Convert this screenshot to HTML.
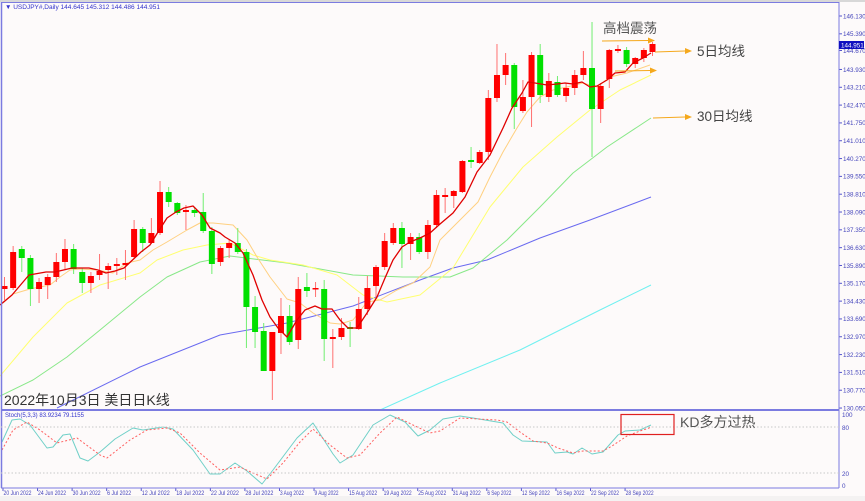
<!DOCTYPE html>
<html><head><meta charset="utf-8"><style>
html,body{margin:0;padding:0;background:#fff;}
svg{display:block;font-family:"Liberation Sans","Noto Sans CJK SC",sans-serif;}
</style></head><body>
<svg id="s" width="865" height="501" xmlns="http://www.w3.org/2000/svg">
<rect x="0" y="0" width="865" height="501" fill="#fdfafa"/>
<rect x="0" y="0" width="865" height="2" fill="#d8d8d8"/>
<rect x="838" y="2" width="27" height="499" fill="#fdfafa"/>
<rect x="0" y="496" width="865" height="5" fill="#f4f2f2"/>
<g id="g"></g>
<line x1="1.5" y1="2" x2="1.5" y2="488" stroke="#7b7be0" stroke-width="1.5"/>
<line x1="1" y1="2.5" x2="839" y2="2.5" stroke="#7b7be0" stroke-width="1"/>
<line x1="839" y1="2" x2="839" y2="488" stroke="#7b7be0" stroke-width="1"/>
<line x1="1" y1="410" x2="839" y2="410" stroke="#7b7be0" stroke-width="2"/>
<line x1="1" y1="488" x2="839" y2="488" stroke="#7b7be0" stroke-width="1"/>
<line x1="1" y1="427" x2="839" y2="427" stroke="#c8c8c8" stroke-dasharray="1.5,2"/>
<line x1="1" y1="473" x2="839" y2="473" stroke="#c8c8c8" stroke-dasharray="1.5,2"/>
<text x="5" y="9" font-size="6.5" fill="#3333cc">▼ USDJPY#,Daily  144.645 145.312 144.486 144.951</text>
<text x="5" y="417" font-size="6" fill="#3333cc">Stoch(5,3,3) 83.9234 79.1155</text>
<text x="4" y="405" font-size="14" fill="#333">2022年10月3日 美日日K线</text>
<text x="603" y="33" font-size="13.5" fill="#555">高档震荡</text>
<text x="697" y="56" font-size="13.5" fill="#444">5日均线</text>
<text x="697" y="121" font-size="13.5" fill="#444">30日均线</text>
<text x="680" y="427" font-size="14" fill="#555">KD多方过热</text>
<rect x="621" y="414.5" width="53" height="20" fill="none" stroke="#e02020" stroke-width="1.2"/>
<g fill="#f5a81c">
<path d="M602 40.5 L648 40 L648 37.5 L655 40.5 L648 43.5 L648 41 L602 41.5Z"/>
<path d="M655 51.5 L685 50.5 L685 48 L692 51 L685 54 L685 51.5 L655 52.5Z"/>
<path d="M615 70.5 L650 70 L650 67.5 L657 70.5 L650 73.5 L650 71 L615 71.5Z"/>
<path d="M653 117.5 L685 116.5 L685 114 L692 117 L685 120 L685 117.5 L653 118.5Z"/>
</g>
<rect x="839" y="41" width="25" height="8" fill="#1010c0"/>
<text x="841" y="47.5" font-size="6.3" fill="#fff">144.951</text>
</svg>
<script>
var g=document.getElementById('g'),NS='http://www.w3.org/2000/svg';
function el(t,a){var e=document.createElementNS(NS,t);for(var k in a)e.setAttribute(k,a[k]);g.appendChild(e);return e;}
function pl(pts,c,w,d){el('polyline',{points:pts.map(function(p){return p.join(',')}).join(' '),fill:'none',stroke:c,'stroke-width':w||1,'stroke-dasharray':d||'none','stroke-linejoin':'round'});}
pl([[380,410],[440,383],[520,350],[600,310],[651,285]],'#70f0f0',1);
pl([[57,408],[140,367],[220,335],[287,323],[353,306],[420,280],[453,268],[487,260],[540,238],[590,220],[651,197]],'#6a6af0',1);
pl([[0,396],[33,380],[67,357],[100,330],[140,297],[167,277],[200,262],[230,256],[287,263],[353,275],[403,277],[450,277],[473,268],[507,240],[540,207],[573,173],[607,147],[651,118]],'#88e888',1);
pl([[0,376],[33,337],[67,303],[100,285],[140,273],[157,260],[183,250],[207,245],[230,243],[253,255],[270,260],[303,265],[337,275],[363,295],[387,302],[420,295],[453,268],[490,207],[523,167],[557,137],[590,110],[620,90],[651,75]],'#ffff70',1);
pl([[3,303],[13,294],[30,289],[50,285],[60,277],[70,270],[80,269],[97,270],[113,273],[127,263],[140,260],[153,250],[167,242],[187,230],[200,223],[213,223],[233,225],[247,240],[257,257],[270,277],[287,299],[300,303],[313,313],[330,323],[340,324],[353,320],[367,302],[380,300],[397,290],[413,283],[430,267],[440,240],[453,227],[467,213],[478,202],[490,177],[503,152],[517,128],[527,112],[540,97],[553,90],[567,87],[583,83],[597,87],[610,77],[627,73],[650,65]],'#ffd080',1);
var C="r 286 289 277 300|r 252 288 246 290|g 249 258 246 272|g 258 289 255 306|r 282 289 278 303|r 277 285 274 299|r 262 277 253 282|r 249 262 239 269|g 249 269 244 274|g 272 283 268 293|r 276 283 272 293|r 271 275 254 280|r 266 270 263 289|r 264 266 258 275|r 263 265 250 280|r 229 257 220 258|g 229 243 227 252|r 233 243 218 244|r 192 233 181 235|g 192 202 187 207|g 203 213 202 215|r 210 212 205 230|g 210 213 207 217|g 212 231 193 233|g 231 264 227 274|r 248 262 246 266|r 243 248 240 258|g 243 252 228 254|g 252 307 249 348|g 307 332 296 348|g 331 371 323 371|r 332 371 332 400|r 316 333 298 354|g 316 342 305 345|r 289 340 277 349|g 287 291 273 297|r 288 289 282 297|g 289 339 280 361|r 337 339 329 368|r 328 337 318 340|g 327 329 322 347|r 309 329 297 330|r 288 309 276 315|r 267 286 265 297|r 241 267 233 270|r 228 243 223 245|g 228 244 222 268|r 237 244 233 260|g 237 252 233 254|r 225 252 220 259|r 195 225 190 228|r 195 197 188 213|r 191 196 190 208|r 161 192 160 193|g 160 162 147 168|r 152 163 150 164|r 98 152 90 160|r 75 98 44 102|r 65 75 53 85|g 65 107 63 129|r 97 111 80 113|r 55 97 52 127|g 55 95 44 103|r 81 97 73 102|g 82 95 76 97|r 88 96 83 102|r 75 88 70 95|r 68 75 51 80|g 68 109 22 157|r 86 109 83 123|r 50 79 49 88|r 49 51 45 53|g 50 64 47 67|r 58 64 57 68|r 50 58 48 62|r 44 52 42 56".split('|');
C.forEach(function(s,i){var a=s.split(' '),x=4.5+8.64*i,t=+a[1],b=+a[2],h=+a[3],l=+a[4],r=a[0]=='r';
el('line',{x1:x,y1:h,x2:x,y2:l,stroke:r?'#ff7070':'#70ee70','stroke-width':1});
el('rect',{x:x-3,y:t,width:6,height:Math.max(b-t,1.5),fill:r?'#ff0000':'#00e000'});});
pl([[0,305],[12,295],[29,275],[46,272],[55,272],[72,268],[89,268],[98,270],[106,273],[115,271],[124,268],[141,252],[150,245],[158,232],[167,218],[176,212],[184,208],[193,206],[202,215],[210,228],[220,233],[225,237],[235,243],[243,253],[253,275],[262,300],[270,317],[278,328],[287,337],[297,320],[305,310],[315,306],[322,309],[332,309],[340,320],[348,328],[357,328],[367,313],[377,297],[385,278],[393,260],[402,247],[410,242],[420,238],[430,233],[440,224],[453,213],[465,197],[477,172],[490,155],[503,128],[512,108],[522,93],[528,82],[535,83],[547,85],[557,84],[565,83],[573,84],[582,82],[590,87],[597,86],[607,80],[615,73],[625,72],[633,63],[643,58],[651,53]],'#e00000',1.3);
pl([[2,442],[12,420],[20,419],[30,425],[47,448],[53,447],[63,435],[70,434],[80,458],[88,461],[100,452],[115,439],[133,428],[143,430],[163,427],[173,429],[193,450],[210,474],[220,474],[235,463],[247,471],[262,484],[273,470],[297,438],[313,423],[333,454],[340,463],[353,455],[373,425],[390,415],[405,422],[418,436],[430,430],[443,419],[460,416],[473,418],[503,423],[513,435],[522,441],[547,442],[555,453],[567,452],[573,454],[582,448],[592,454],[603,452],[618,435],[625,431],[640,430],[651,425]],'#70d0c8',1);
pl([[2,450],[13,430],[27,422],[40,430],[57,443],[77,438],[100,455],[107,458],[130,440],[147,430],[167,428],[180,433],[200,453],[220,470],[240,467],[253,473],[267,479],[283,463],[300,442],[313,429],[330,445],[347,458],[360,455],[380,433],[397,417],[413,425],[430,433],[440,431],[460,418],[497,420],[507,422],[520,432],[533,441],[547,443],[558,448],[573,453],[583,451],[603,451],[612,446],[627,436],[640,431],[652,427]],'#ff6060',1,'2,2');
var P=["146.130","145.390","144.670","143.930","143.210","142.470","141.750","141.010","140.270","139.550","138.810","138.090","137.350","136.630","135.890","135.170","134.430","133.690","132.970","132.230","131.510","130.770","130.050"];
P.forEach(function(p,i){var y=16+i*17.82;if(i==2)y=50.5;el('line',{x1:839,y1:y,x2:842,y2:y,stroke:'#5555cc'});var t=el('text',{x:843,y:y+2.3,'font-size':'6.3',fill:'#4444bb'});t.textContent=p;});
[["100",415],["80",428],["20",474],["0",486]].forEach(function(a){var t=el('text',{x:842,y:a[1]+2,'font-size':'6.3',fill:'#4444bb'});t.textContent=a[0];});
var D=["20 Jun 2022","24 Jun 2022","30 Jun 2022","6 Jul 2022","12 Jul 2022","18 Jul 2022","22 Jul 2022","28 Jul 2022","3 Aug 2022","9 Aug 2022","15 Aug 2022","19 Aug 2022","25 Aug 2022","31 Aug 2022","6 Sep 2022","12 Sep 2022","16 Sep 2022","22 Sep 2022","28 Sep 2022"];
D.forEach(function(d,i){var x=3+i*34.56;el('line',{x1:x,y1:488,x2:x,y2:491,stroke:'#5555cc'});var t=el('text',{x:x+0.5,y:495,'font-size':'6','font-family':'Liberation Sans Narrow, Liberation Sans, sans-serif',fill:'#4444bb',textLength:(d.length>10?28:24),lengthAdjust:'spacingAndGlyphs'});t.textContent=d;});
</script>
</body></html>
